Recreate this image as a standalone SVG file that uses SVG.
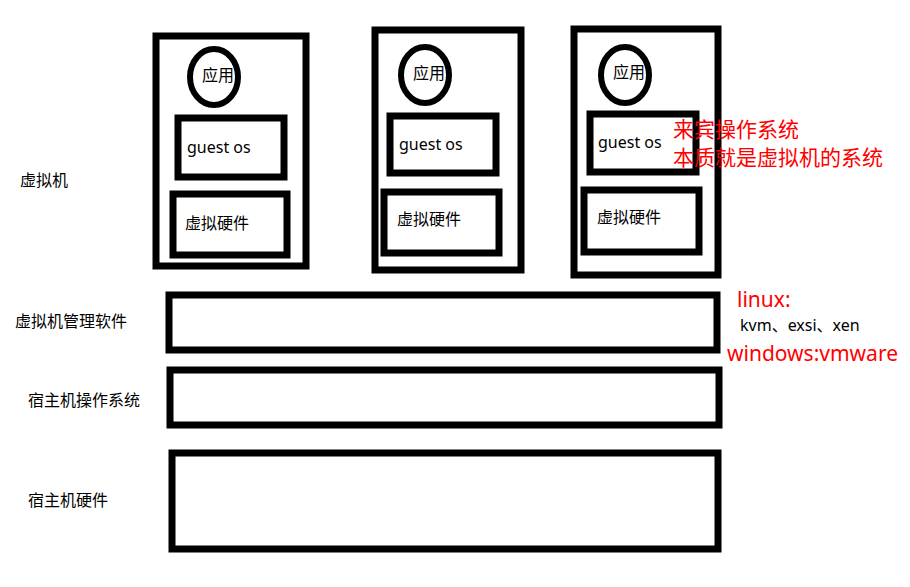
<svg xmlns="http://www.w3.org/2000/svg" width="910" height="587" viewBox="0 0 910 587">
<style>
.box{fill:none;stroke:#000;stroke-width:7}
.circ{fill:none;stroke:#000;stroke-width:6}
.t{font-family:"Noto Sans","Noto Sans CJK SC",sans-serif;font-size:16px;fill:#000}
.cn{font-family:"Noto Sans CJK SC","Noto Sans",sans-serif;font-size:16px;fill:#000}
.red{font-family:"Noto Sans","Noto Sans CJK SC",sans-serif;font-size:21px;fill:#ff0000}
.redcn{font-family:"Noto Sans CJK SC","Noto Sans",sans-serif;font-size:21px;fill:#ff0000}
</style>
<rect x="0" y="0" width="910" height="587" fill="#fff"/>
<g id="labels">
<text class="cn" x="20" y="186">虚拟机</text>
<text class="cn" x="15" y="327">虚拟机管理软件</text>
<text class="cn" x="28" y="406">宿主机操作系统</text>
<text class="cn" x="28" y="506">宿主机硬件</text>
</g>
<g id="vm1">
<rect class="box" x="156" y="36" width="150" height="230"/>
<ellipse class="circ" cx="214" cy="77" rx="24" ry="28"/>
<text class="cn" x="202" y="81">应用</text>
<rect class="box" x="178" y="118" width="106" height="59"/>
<text class="t" x="187" y="153">guest os</text>
<rect class="box" x="173" y="194" width="114" height="61"/>
<text class="cn" x="185" y="229">虚拟硬件</text>
</g>
<g id="vm2">
<rect class="box" x="375" y="30" width="146" height="240"/>
<ellipse class="circ" cx="425" cy="75" rx="24" ry="28"/>
<text class="cn" x="413" y="79">应用</text>
<rect class="box" x="390" y="116" width="106" height="57"/>
<text class="t" x="399" y="150">guest os</text>
<rect class="box" x="384" y="192" width="115" height="61"/>
<text class="cn" x="397" y="225">虚拟硬件</text>
</g>
<g id="vm3">
<rect class="box" x="574" y="29" width="144" height="246"/>
<ellipse class="circ" cx="625" cy="75" rx="24" ry="28"/>
<text class="cn" x="613" y="78">应用</text>
<rect class="box" x="590" y="114" width="106" height="58"/>
<text class="t" x="598" y="148">guest os</text>
<rect class="box" x="584" y="190" width="115" height="62"/>
<text class="cn" x="597" y="223">虚拟硬件</text>
</g>
<g id="note-guest">
<text class="redcn" x="673" y="137">来宾操作系统</text>
<text class="redcn" x="673" y="165">本质就是虚拟机的系统</text>
</g>
<g id="hypervisor">
<rect class="box" x="169" y="295" width="548" height="55"/>
</g>
<g id="host-os">
<rect class="box" x="170" y="370" width="549" height="55"/>
</g>
<g id="host-hw">
<rect class="box" x="172" y="453" width="546" height="96"/>
</g>
<g id="note-hypervisor">
<text class="red" x="737" y="307">linux:</text>
<text class="t" x="740" y="331" font-size="15.5">kvm、exsi、xen</text>
<text class="red" x="727" y="361">windows:vmware</text>
</g>
<g id="connectors"></g>
</svg>
